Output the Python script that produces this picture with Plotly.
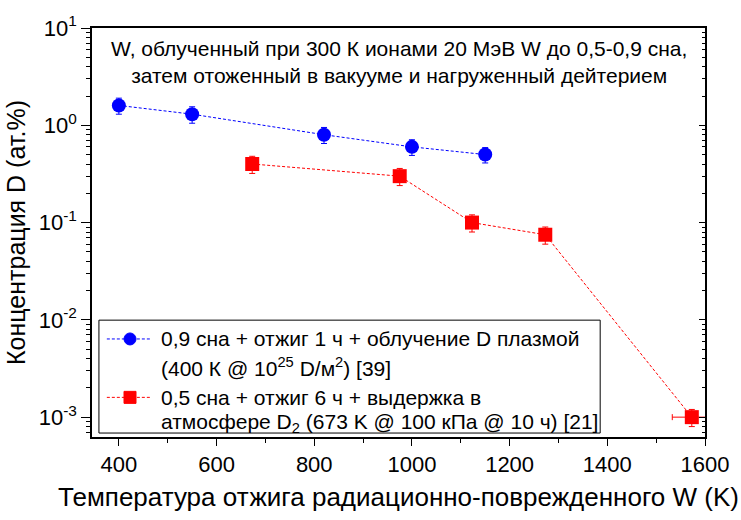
import plotly.graph_objects as go

# Blue series: 0.9 dpa, 1 h anneal, D plasma exposure
t_plasma = [400, 550, 820, 1000, 1150]
c_plasma = [1.6, 1.3, 0.8, 0.6, 0.5]
c_plasma_err = [0.3, 0.25, 0.15, 0.11, 0.09]
t_plasma_err = [0, 0, 0, 0, 10]

# Red series: 0.5 dpa, 6 h anneal, D2 gas loading
t_gas = [673, 975, 1123, 1273, 1573]
c_gas = [0.4, 0.3, 0.1, 0.075, 0.001]
c_gas_err = [0.08, 0.06, 0.02, 0.015, 0.0002]
t_gas_err = [0, 0, 10, 10, 40]

x_ticks = [400, 600, 800, 1000, 1200, 1400, 1600]
y_ticks = [1e-3, 1e-2, 1e-1, 1, 10]
y_tick_text = ["10<sup>-3</sup>", "10<sup>-2</sup>", "10<sup>-1</sup>",
               "10<sup>0</sup>", "10<sup>1</sup>"]

legend_plasma = ["0,9 сна + отжиг 1 ч + облучение D плазмой",
                 "(400 К @ 10<sup>25</sup> D/м<sup>2</sup>) [39]"]
legend_gas = ["0,5 сна + отжиг 6 ч + выдержка в",
              "атмосфере D<sub>2</sub> (673 K @ 100 кПа @ 10 ч) [21]"]

FONT = "Liberation Sans, Arial, sans-serif"
BLUE = "#0000ff"
RED = "#ff0000"
X_RANGE = [345, 1600]
Y_RANGE = [-3.204, 1.0]

fig = go.Figure()

fig.add_trace(go.Scatter(
    x=t_plasma, y=c_plasma, mode="lines+markers", showlegend=False,
    line=dict(color=BLUE, width=1, dash="3px,2px"),
    marker=dict(symbol="circle", size=14, color=BLUE),
    error_y=dict(type="data", array=c_plasma_err, color=BLUE, thickness=1, width=3),
    error_x=dict(type="data", array=t_plasma_err, color=BLUE, thickness=1, width=3),
))

fig.add_trace(go.Scatter(
    x=t_gas, y=c_gas, mode="lines+markers", showlegend=False,
    line=dict(color=RED, width=1, dash="3px,2px"),
    marker=dict(symbol="square", size=14, color=RED),
    error_y=dict(type="data", array=c_gas_err, color=RED, thickness=1, width=3),
    error_x=dict(type="data", array=t_gas_err, color=RED, thickness=1, width=3),
))

# empty trace that carries the right-hand axis with inward ticks
fig.add_trace(go.Scatter(x=[None], y=[None], yaxis="y2", showlegend=False,
                         hoverinfo="skip"))

# ---- legend box drawn in plot-area (paper) coordinates ----
box = dict(x0=0.0113, x1=0.829, y0=0.0097, y1=0.2857)
sym_x0, sym_x1, sym_xc = 0.0242, 0.0966, 0.062
text_x = 0.1095
row_y_plasma = [0.2397, 0.1720]
row_y_gas = [0.0969, 0.0345]

shapes = [
    dict(type="rect", xref="paper", yref="paper", layer="below",
         fillcolor="white", line=dict(color="black", width=1), **box),
]
for color, yy, sym in [(BLUE, row_y_plasma[0], "circle"),
                       (RED, row_y_gas[0], "rect")]:
    shapes.append(dict(type="line", xref="paper", yref="paper",
                       x0=sym_x0, x1=sym_x1, y0=yy, y1=yy,
                       line=dict(color=color, width=1, dash="3px,2px")))
    shapes.append(dict(type=sym, xref="paper", yref="paper",
                       xsizemode="pixel", ysizemode="pixel",
                       xanchor=sym_xc, yanchor=yy,
                       x0=-6, x1=6, y0=-6, y1=6,
                       fillcolor=color, line=dict(color=color, width=1)))

annotations = [dict(
    text="W, облученный при 300 К ионами 20 МэВ W до 0,5-0,9 сна,<br>"
         "затем отоженный в вакууме и нагруженный дейтерием",
    x=0.5, y=0.982, xref="paper", yref="paper",
    xanchor="center", yanchor="top", showarrow=False, align="center",
    font=dict(family=FONT, size=21, color="black"),
)]
for txt, yy in list(zip(legend_plasma, row_y_plasma)) + list(zip(legend_gas, row_y_gas)):
    annotations.append(dict(
        text=txt, x=text_x, y=yy, xref="paper", yref="paper",
        xanchor="left", yanchor="middle", showarrow=False, align="left",
        font=dict(family=FONT, size=21, color="black"),
    ))

fig.update_layout(
    width=741, height=520,
    margin=dict(l=92, r=28, t=24, b=83),
    paper_bgcolor="white", plot_bgcolor="white",
    font=dict(family=FONT, color="black", size=20),
    showlegend=False,
    xaxis=dict(
        range=X_RANGE, tickvals=x_ticks, ticks="outside", ticklen=7,
        tickwidth=1, tickcolor="black", showline=True, linecolor="black",
        linewidth=1.5, mirror=True, showgrid=False, zeroline=False,
        tickfont=dict(size=22),
        minor=dict(dtick=100, ticks="outside", ticklen=4, tickcolor="black",
                   showgrid=False),
        title=dict(text="Температура отжига радиационно-поврежденного W (K)",
                   font=dict(size=26), standoff=12),
    ),
    yaxis=dict(
        type="log", range=Y_RANGE, tickvals=y_ticks, ticktext=y_tick_text,
        ticks="outside", ticklen=9, tickwidth=1, tickcolor="black",
        showline=True, linecolor="black", linewidth=1.5, mirror=True,
        showgrid=False, zeroline=False, tickfont=dict(size=22),
        minor=dict(ticks="outside", ticklen=4, tickcolor="black",
                   showgrid=False, dtick="D1"),
        title=dict(text="Концентрация D (ат.%)", font=dict(size=25), standoff=6),
    ),
    yaxis2=dict(
        type="log", range=Y_RANGE, overlaying="y", side="right",
        tickvals=y_ticks, showticklabels=False, ticks="inside", ticklen=6,
        tickcolor="black", showline=False, showgrid=False, zeroline=False,
        minor=dict(ticks="inside", ticklen=3, tickcolor="black",
                   showgrid=False, dtick="D1"),
    ),
    shapes=shapes,
    annotations=annotations,
)

fig.write_html("out.html")
